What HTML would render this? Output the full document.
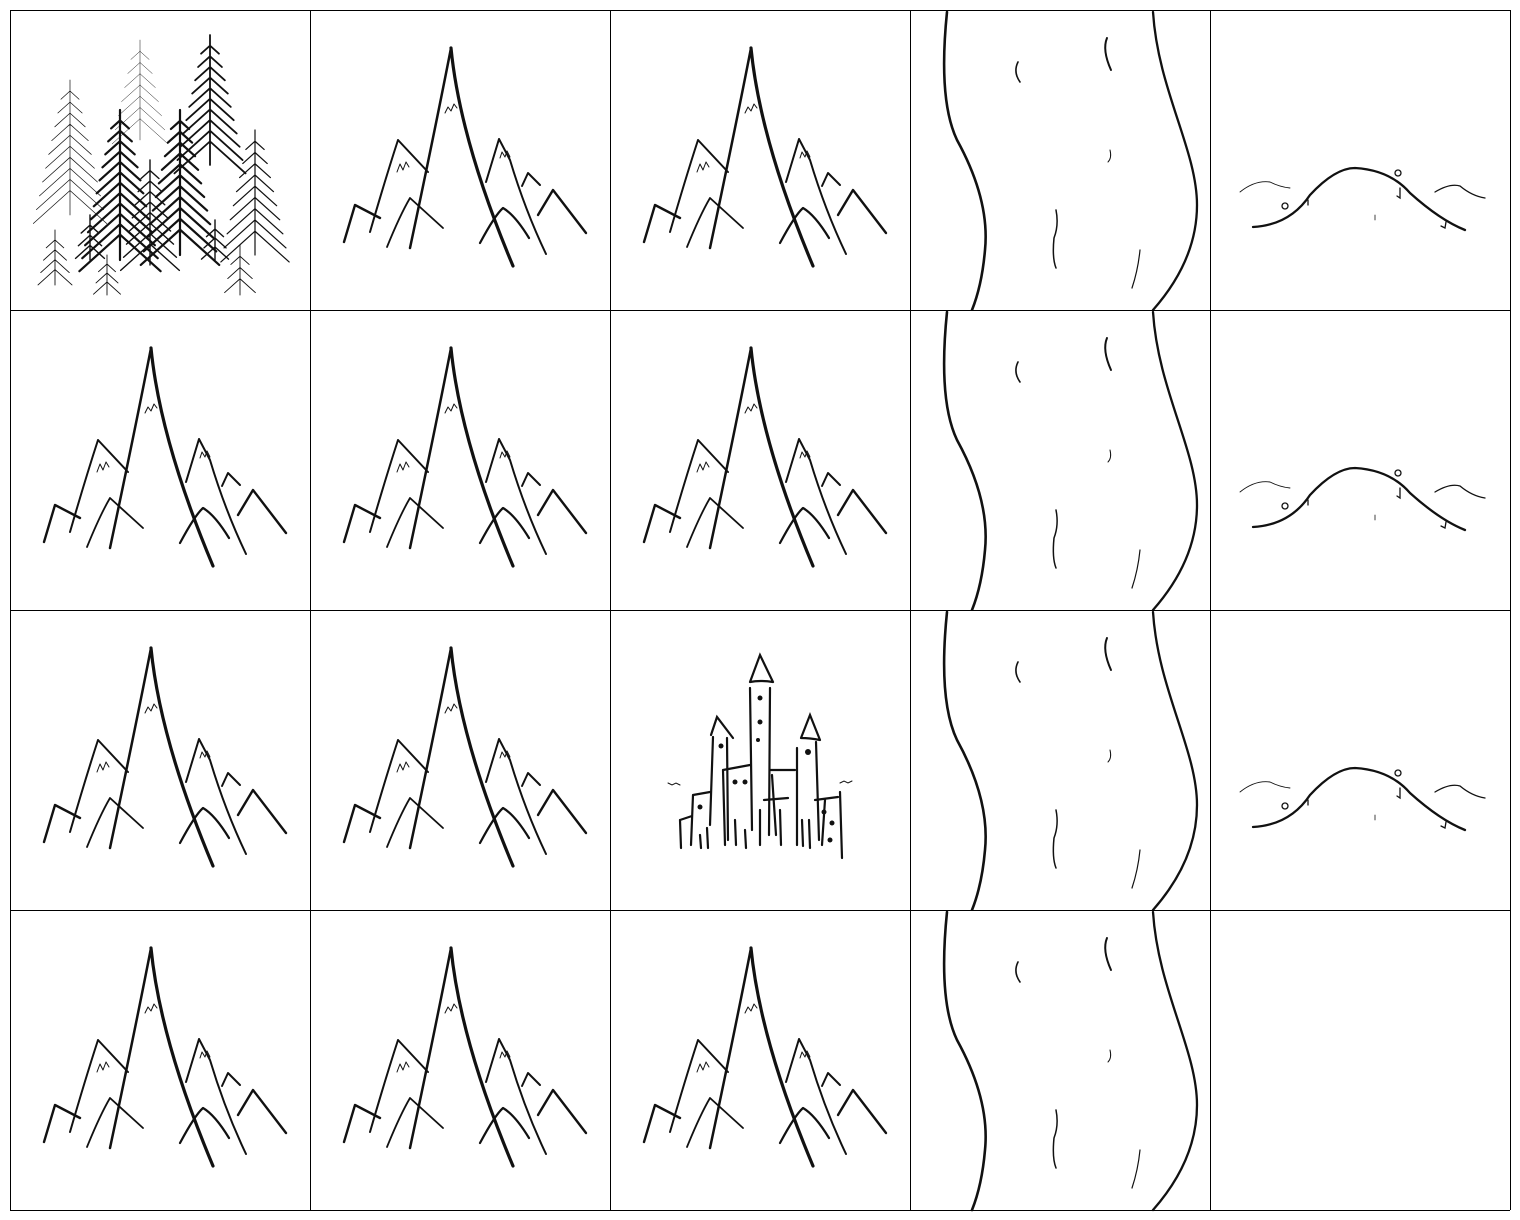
<!DOCTYPE html>
<html><head><meta charset="utf-8"><style>
html,body{margin:0;padding:0;background:#fff;}
svg{display:block;}
</style></head><body>
<svg id="map" width="1520" height="1220" viewBox="0 0 1520 1220" xmlns="http://www.w3.org/2000/svg">
<defs>
<g id="mountain" fill="none" stroke="#111" stroke-linecap="round" stroke-linejoin="round">
  <path d="M100 238 Q125 120 141 38" stroke-width="2.5"/>
  <path d="M141 38 Q150 130 203 256" stroke-width="3.2"/>
  <path d="M60 222 Q75 170 88 130 L118 162" stroke-width="2"/>
  <path d="M34 232 L45 195 L70 208" stroke-width="2.4"/>
  <path d="M77 237 Q90 205 100 188 L133 218" stroke-width="1.8"/>
  <path d="M176 172 L189 129 L200 150 Q215 200 236 244" stroke-width="2"/>
  <path d="M170 233 Q185 205 193 198 Q205 205 219 228" stroke-width="2.2"/>
  <path d="M212 176 L218 163 L230 175" stroke-width="2"/>
  <path d="M228 205 L243 180 L276 223" stroke-width="2.4"/>
  <path d="M135 103 l3 -6 l3 4 l3 -7 l3 4" stroke-width="1"/>
  <path d="M87 162 l3 -8 l3 6 l3 -8 l3 5" stroke-width="1"/>
  <path d="M190 148 l2 -6 l3 5 l2 -6 l3 6" stroke-width="1"/>
</g>
<g id="river" fill="none" stroke="#111" stroke-linecap="round">
  <path d="M37 2 Q28 90 47 130 Q80 190 75 240 Q72 275 62 300" stroke-width="2.6"/>
  <path d="M243 2 C248 80 287 140 287 195 C287 240 265 275 243 300" stroke-width="2.3"/>
  <path d="M108 52 q-5 10 2 20" stroke-width="1.6"/>
  <path d="M197 28 q-5 12 4 32" stroke-width="2"/>
  <path d="M200 140 q2 8 -2 12" stroke-width="1"/>
  <path d="M146 200 q3 15 -2 28 q-2 20 2 30" stroke-width="1.5"/>
  <path d="M230 240 q-2 20 -8 38" stroke-width="1.2"/>
</g>
<g id="hill" fill="none" stroke="#111" stroke-linecap="round">
  <path d="M43 217 Q80 215 100 185 Q125 158 145 158 Q180 160 200 183 Q230 210 255 220" stroke-width="2.3"/>
  <path d="M30 182 Q45 170 60 172 Q70 177 80 178" stroke-width="0.9"/>
  <path d="M225 182 Q240 173 250 176 Q262 186 275 188" stroke-width="1.3"/>
  <circle cx="75" cy="196" r="3" stroke-width="1.3"/>
  <circle cx="188" cy="163" r="3" stroke-width="1.3"/>
  <path d="M190 178 l0 10 l-3 -2" stroke-width="1.3"/>
  <path d="M98 190 l0 5" stroke-width="1.3"/>
  <path d="M165 205 l0 5" stroke-width="0.8"/>
  <path d="M236 212 l-1 6 l-4 -2" stroke-width="1.3"/>
</g>
<g id="castle" fill="none" stroke="#111" stroke-linecap="round" stroke-width="2.2">
  <path d="M140 72 L150 45 L163 72 M140 72 Q150 70 163 72"/>
  <path d="M140 78 L142 220 M160 78 L159 225"/>
  <path d="M101 125 L107 107 L123 128"/>
  <path d="M103 127 L100 215 M117 128 L118 230"/>
  <path d="M191 128 L200 105 L210 130 M191 128 Q200 128 210 130"/>
  <path d="M187 138 L187 235 M206 132 L209 230"/>
  <path d="M113 160 L140 155 M113 160 L115 235"/>
  <path d="M160 160 L185 160 M162 165 L166 225"/>
  <path d="M83 185 L100 182 M83 185 L81 235 M70 210 L82 206 M70 210 L71 238"/>
  <path d="M205 190 L228 187 M230 182 L232 248 M215 190 L212 235"/>
  <path d="M154 190 L178 188 M150 200 L150 235 M170 200 L171 235"/>
  <path d="M90 225 L91 238 M97 218 L98 238 M125 210 L126 235 M135 220 L136 238 M192 210 L193 236 M199 210 L200 238"/>
  <path d="M58 173 l4 2 l4 -2 l4 2 M230 173 l4 -2 l4 2 l4 -2" stroke-width="1"/>
  <g fill="#111" stroke="none">
    <circle cx="150" cy="88" r="2.5"/><circle cx="150" cy="112" r="2.5"/><circle cx="148" cy="130" r="2"/>
    <circle cx="111" cy="136" r="2.5"/><circle cx="198" cy="142" r="3"/>
    <circle cx="125" cy="172" r="2.5"/><circle cx="135" cy="172" r="2.5"/><circle cx="90" cy="197" r="2.5"/>
    <circle cx="214" cy="202" r="2.5"/><circle cx="222" cy="213" r="2.5"/><circle cx="220" cy="230" r="2.5"/>
  </g>
</g>
<g id="forest" fill="none" stroke="#111" stroke-linecap="round"></g>
</defs>
<g id="tiles"></g>
<g id="grid" stroke="#000" stroke-width="1" fill="none"></g>
</svg>
<script>
const tileRows = [
  ["forest","mountain","mountain","river","hill"],
  ["mountain","mountain","mountain","river","hill"],
  ["mountain","mountain","castle","river","hill"],
  ["mountain","mountain","mountain","river","empty"]
];
// trees: [x, top, bottom, weight]
const treeX = [60,130,200,110,170,245,140,80,45,97,230,205];
const treeTop = [70,30,25,100,100,120,150,205,220,245,235,210];
const treeBottom = [205,130,155,250,245,245,255,250,275,285,285,250];
const treeWeight = [0.7,0.5,1.8,2.2,2.2,1.2,1.4,1.4,0.9,0.9,0.9,1.4];

const NS="http://www.w3.org/2000/svg";
const forest=document.getElementById('forest');
treeX.forEach((x,i)=>{
  const t=treeTop[i], b=treeBottom[i], w=treeWeight[i];
  let d=`M${x} ${t} L${x} ${b}`;
  const n=Math.max(4,Math.round((b-t)/12));
  for(let k=1;k<n;k++){
    const y=t+(b-t)*k/n*0.9;
    const s=6+(b-t)*0.25*k/n;
    d+=` M${x} ${y} L${x-s} ${y+s*0.9} M${x} ${y} L${x+s} ${y+s*0.9}`;
  }
  const p=document.createElementNS(NS,'path');
  p.setAttribute('d',d);
  p.setAttribute('stroke-width',w);
  
  
  forest.appendChild(p);
});

const tiles=document.getElementById('tiles');
const cell=300, ox=10, oy=10;
tileRows.forEach((row,r)=>{
  row.forEach((type,c)=>{
    const g=document.createElementNS(NS,'g');
    g.setAttribute('transform',`translate(${ox+c*cell},${oy+r*cell})`);
    
    
    const bg=document.createElementNS(NS,'rect');
    bg.setAttribute('width',cell);bg.setAttribute('height',cell);bg.setAttribute('fill','#fff');
    g.appendChild(bg);
    if(type!=='empty'){
      const u=document.createElementNS(NS,'use');
      u.setAttribute('href','#'+type);
      g.appendChild(u);
    }
    tiles.appendChild(g);
  });
});
const grid=document.getElementById('grid');
for(let c=0;c<=5;c++){
  const l=document.createElementNS(NS,'line');
  l.setAttribute('x1',ox+c*cell+0.5);l.setAttribute('x2',ox+c*cell+0.5);
  l.setAttribute('y1',oy);l.setAttribute('y2',oy+4*cell);
  
  
  grid.appendChild(l);
}
for(let r=0;r<=4;r++){
  const l=document.createElementNS(NS,'line');
  l.setAttribute('y1',oy+r*cell+0.5);l.setAttribute('y2',oy+r*cell+0.5);
  l.setAttribute('x1',ox);l.setAttribute('x2',ox+5*cell);
  
  
  grid.appendChild(l);
}
</script>
</body></html>
